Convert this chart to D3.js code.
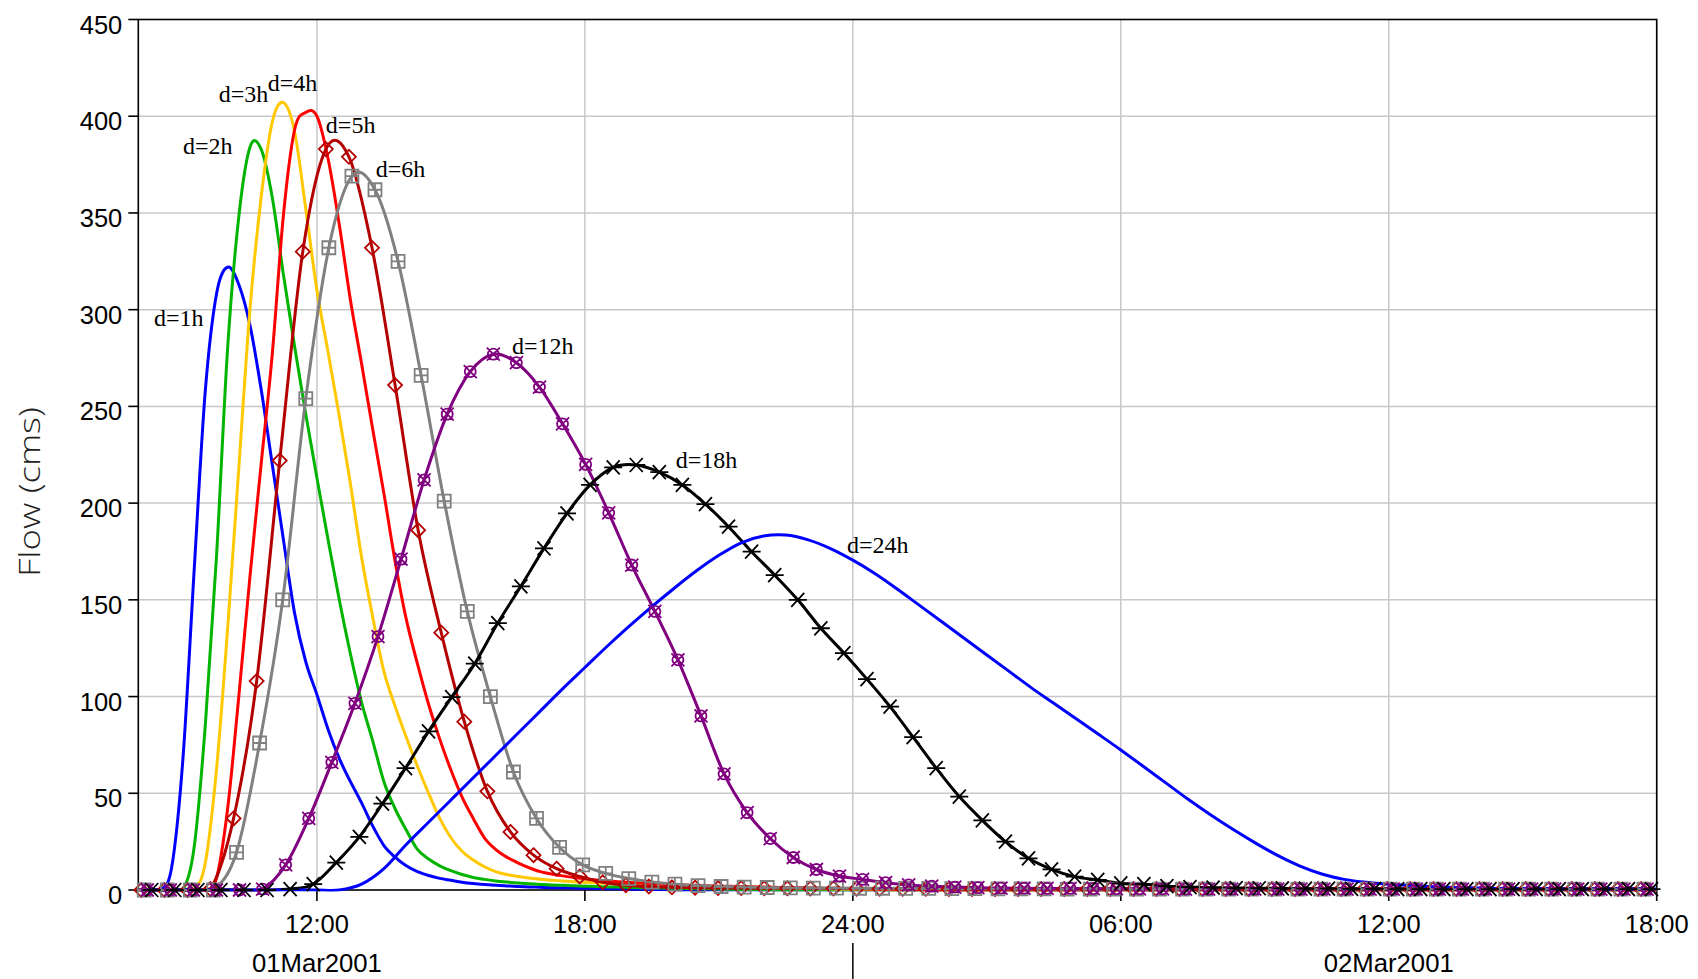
<!DOCTYPE html>
<html>
<head>
<meta charset="utf-8">
<script src="https://cdn.jsdelivr.net/npm/d3@7"></script>
<style>
body { margin: 0; background: #fff; }
svg { display: block; font-family: "Liberation Sans", Arial, sans-serif; }
</style>
</head>
<body>
<svg></svg>
<script>
let width = 1698, height = 979;
let plot = {left: 138.3, right: 1656.7, top: 19.5, bottom: 890};

// time range and ticks
let startTime = new Date(2001, 2, 1, 8, 0);
let endTime = new Date(2001, 2, 2, 18, 0);
let yTicks = [0, 50, 100, 150, 200, 250, 300, 350, 400, 450];
let xTickTimes = [new Date(2001, 2, 1, 12), new Date(2001, 2, 1, 18), new Date(2001, 2, 2, 0),
                  new Date(2001, 2, 2, 6), new Date(2001, 2, 2, 12), new Date(2001, 2, 2, 18)];
let xTickLabels = ["12:00", "18:00", "24:00", "06:00", "12:00", "18:00"];
let dayLabelTimes = [new Date(2001, 2, 1, 12), new Date(2001, 2, 2, 12)];
let dayLabels = ["01Mar2001", "02Mar2001"];
let dayBreaks = [new Date(2001, 2, 2, 0)];

// flows (cms), 15 min steps from 08:00
let d1h = [0,0,0,12,68,165,258,308,322,313,
  292,259,220,181,143,118,101,83,68,56,
  45,33,23,17,12.5,9.5,7.5,6,5,4,
  3.3,2.8,2.4,2.1,1.8,1.6,1.4,1.2,1.1,1,
  0.9,0.8,0.7,0.6,0.5,0.4,0.3,0.2,0.1,0,
  0,0,0,0,0,0,0,0,0,0, 0,0,0,0,0,0,0,0,0,0,
  0,0,0,0,0,0,0,0,0,0, 0,0,0,0,0,0,0,0,0,0,
  0,0,0,0,0,0,0,0,0,0, 0,0,0,0,0,0,0,0,0,0,
  0,0,0,0,0,0,0,0,0,0, 0,0,0,0,0,0,0,0,0,0,
  0,0,0,0,0,0,0];
let d2h = [0,0,0,0,0,22,85,172,280,348,
  384,383,358,318,281,246,213,181,150,122,
  97,77,56,42,31,21,16,12.5,10,8,
  6.5,5.5,4.7,4.1,3.6,3.2,2.9,2.6,2.4,2.2,
  2,1.8,1.6,1.5,1.3,1.2,1.1,1,0.9,0.8,
  0.7,0.6,0.5,0.4,0.3,0.2,0.1,0,0,0,
  0,0,0,0,0,0,0,0,0,0, 0,0,0,0,0,0,0,0,0,0,
  0,0,0,0,0,0,0,0,0,0, 0,0,0,0,0,0,0,0,0,0,
  0,0,0,0,0,0,0,0,0,0, 0,0,0,0,0,0,0,0,0,0,
  0,0,0,0,0,0,0,0,0,0, 0,0,0,0,0,0,0];
let d3h = [0,0,0,0,0,0,14,62,135,218,
  300,358,397,407,392,352,310,278,245,210,
  172,141,113,95,79,64,50,37,27,20,
  15.5,12,9.5,8,7,6.2,5.6,5.1,4.7,4.3,
  4,3.7,3.4,3.2,3,2.8,2.6,2.4,2.2,2,
  1.9,1.8,1.6,1.5,1.4,1.3,1.2,1.1,1,0.9,
  0.8,0.7,0.6,0.5,0.4,0.3,0.2,0.1,0,0,
  0,0,0,0,0,0,0,0,0,0, 0,0,0,0,0,0,0,0,0,0,
  0,0,0,0,0,0,0,0,0,0, 0,0,0,0,0,0,0,0,0,0,
  0,0,0,0,0,0,0,0,0,0, 0,0,0,0,0,0,0,0,0,0,
  0,0,0,0,0,0,0];
let d4h = [0,0,0,0,0,0,0,6,42,100,
  162,220,277,349,393,402,400,378,344,305,
  272,238,205,170,140,117,96,78,62,48,
  37,27,21,17,14,11.5,9.5,8.3,7.3,6.5,
  5.8,5.2,4.7,4.3,3.9,3.6,3.3,3,2.8,2.6,
  2.4,2.2,2,1.9,1.8,1.7,1.5,1.4,1.3,1.2,
  1.1,1,0.9,0.8,0.7,0.6,0.5,0.4,0.3,0.2,
  0.1,0,0,0,0,0,0,0,0,0,
  0,0,0,0,0,0,0,0,0,0, 0,0,0,0,0,0,0,0,0,0,
  0,0,0,0,0,0,0,0,0,0, 0,0,0,0,0,0,0,0,0,0,
  0,0,0,0,0,0,0,0,0,0, 0,0,0,0,0,0,0];
// marker series, 31 min steps
let d5h = [0,0,0,0.5,37,108,222,330,383,379,
  332,261,186,133,87,51,30,18,11,7,
  4,2.5,1.8,1.4,1.2,1,1,0.9,0.9,0.8,
  0.8,0.7,0.7,0.6,0.6,0.5,0.5,0.5,0.5,0.5,
  0.5,0.5,0.5,0.5,0.5,0.5,0.5,0.5,0.5,0.5,
  0.5,0.5,0.5,0.5,0.5,0.5,0.5,0.5,0.5,0.5,
  0.5,0.5,0.5,0.5,0.5,0.5];
let d6h = [0,0,0,0,19.5,76,150,254,332,369,
  362,325,266,201,144,100,61,37,22,13,
  8.6,5.9,4.1,3,2.3,1.8,1.5,1.3,1.1,1,
  1,0.9,0.9,0.8,0.8,0.7,0.7,0.6,0.6,0.6,
  0.5,0.5,0.5,0.5,0.5,0.5,0.5,0.5,0.5,0.5,
  0.5,0.5,0.5,0.5,0.5,0.5,0.5,0.5,0.5,0.5,
  0.5,0.5,0.5,0.5,0.5,0.5];
let d12h = [0,0,0,0,0,0.5,13,37,66,96.5,
  131,171,212,246,268,277,272.6,260,241,220,
  195,168,144,119,90,60,40,26.6,16.8,10.6,
  7.2,5.5,3.8,2.6,2,1.5,1.2,1,0.9,0.8,
  0.8,0.7,0.7,0.6,0.6,0.5,0.5,0.5,0.5,0.5,
  0.5,0.5,0.5,0.5,0.5,0.5,0.5,0.5,0.5,0.5,
  0.5,0.5,0.5,0.5,0.5,0.5];
let d18h = [0,0,0,0,0,0,0.5,3,14.2,27.5,
  44.6,63,82,99.7,117,138,157,176.6,194.7,209.4,
  218.5,219.7,216,209.4,199.5,187.8,174.9,162.8,150,135.3,
  122.5,109,94.8,79,63,48.3,36,25,16.4,10.7,
  6.9,5.2,3.4,3,2,1.5,1.2,1,0.9,0.8,
  0.7,0.7,0.6,0.6,0.5,0.5,0.5,0.5,0.5,0.5,
  0.5,0.5,0.5,0.5,0.5,0.5];
// 30 min steps
let d24h = [0,0,0,0,0,0,0,0,0,0,
  3,11,23.5,35,46.5,58,69.5,81,92.5,104,
  115,126,136.5,146.5,156,165,173,179.5,183,183.5,
  181,176.5,170.5,163.5,155.5,147,138.5,130,121.5,113,
  104.5,96.5,88.5,80.5,72.4,64,55.5,47,39,31.5,
  24.5,18,12.5,8.3,5.5,4,3,2.3,1.7,1.3,
  1,0.8,0.7,0.6,0.5,0.5,0.5,0.5,0.5];

let seriesNames = ["d=1h", "d=2h", "d=3h", "d=4h", "d=5h", "d=6h", "d=12h", "d=18h", "d=24h"];
let seriesValues = [d1h, d2h, d3h, d4h, d5h, d6h, d12h, d18h, d24h];
let seriesOffsets = [0, 0, 0, 0, 4, 8, 12, 18, 0];      // minutes after 08:00
let seriesSteps = [15, 15, 15, 15, 31, 31, 31, 31, 30];  // minutes
let seriesColors = ["#0000ff", "#00b400", "#ffc800", "#ff0000", "#b40000", "#808080", "#800080", "#000000", "#0000ff"];
let seriesMarkers = [null, null, null, null, "diamond", "boxplus", "circlex", "asterisk", null];

// curve labels, placed in data units (minutes after 08:00, flow)
let labelMinutes = [21, 60, 108, 174, 252, 319, 502, 722, 952];
let labelFlows = [291.6, 380.5, 407.3, 413, 391.3, 368.6, 277.1, 218.2, 174.2];

let markerPaths = {
  diamond: "M0,-7L7,0L0,7L-7,0Z",
  boxplus: "M-6.5,-6.5H6.5V6.5H-6.5Z M0,-6.5V6.5 M-6.5,0H6.5",
  circlex: "M5.5,0A5.5,5.5 0 1,1 -5.5,0A5.5,5.5 0 1,1 5.5,0Z M-6.5,-6.5L6.5,6.5 M6.5,-6.5L-6.5,6.5",
  asterisk: "M-9,0H9 M-6.5,-7L6.5,7 M6.5,-7L-6.5,7"
};

let svg = d3.select("svg")
    .attr("width", width)
    .attr("height", height)
    .attr("viewBox", "0 0 " + width + " " + height);

let x = d3.scaleTime().domain([startTime, endTime]).range([plot.left, plot.right]);
let y = d3.scaleLinear().domain([0, 450]).range([plot.bottom, plot.top]);

svg.append("defs").append("clipPath").attr("id", "clip")
  .append("rect")
    .attr("x", plot.left).attr("y", plot.top)
    .attr("width", plot.right - plot.left)
    .attr("height", plot.bottom - plot.top + 1.5);

// grid
svg.append("g").selectAll("line")
  .data(yTicks.filter(v => v > 0 && v < 450))
  .enter().append("line")
    .attr("x1", plot.left).attr("x2", plot.right)
    .attr("y1", d => y(d)).attr("y2", d => y(d))
    .attr("stroke", "#c8c8c8").attr("stroke-width", 1.5);

svg.append("g").selectAll("line")
  .data(xTickTimes)
  .enter().append("line")
    .attr("x1", d => x(d)).attr("x2", d => x(d))
    .attr("y1", plot.top).attr("y2", plot.bottom)
    .attr("stroke", "#c8c8c8").attr("stroke-width", 1.5);

// frame and ticks
svg.append("rect")
    .attr("x", plot.left).attr("y", plot.top)
    .attr("width", plot.right - plot.left).attr("height", plot.bottom - plot.top)
    .attr("fill", "none").attr("stroke", "#000").attr("stroke-width", 1.6);

let yAxis = svg.append("g");
yAxis.selectAll("line").data(yTicks).enter().append("line")
    .attr("x1", plot.left - 10).attr("x2", plot.left)
    .attr("y1", d => y(d)).attr("y2", d => y(d))
    .attr("stroke", "#000").attr("stroke-width", 1.6);
yAxis.selectAll("text").data(yTicks).enter().append("text")
    .attr("x", plot.left - 16)
    .attr("y", d => y(d) + 14)
    .attr("text-anchor", "end")
    .attr("font-size", 25.5)
    .text(d => d);

let xAxis = svg.append("g");
xAxis.selectAll("line").data(xTickTimes).enter().append("line")
    .attr("x1", d => x(d)).attr("x2", d => x(d))
    .attr("y1", plot.bottom).attr("y2", plot.bottom + 11)
    .attr("stroke", "#000").attr("stroke-width", 1.6);
xAxis.selectAll("text").data(xTickTimes).enter().append("text")
    .attr("x", d => x(d))
    .attr("y", 933)
    .attr("text-anchor", "middle")
    .attr("font-size", 25.5)
    .text((d, i) => xTickLabels[i]);

svg.append("g").selectAll("text").data(dayLabelTimes).enter().append("text")
    .attr("x", d => x(d))
    .attr("y", 972)
    .attr("text-anchor", "middle")
    .attr("font-size", 25.5)
    .attr("textLength", 130)
    .attr("lengthAdjust", "spacingAndGlyphs")
    .text((d, i) => dayLabels[i]);

svg.append("g").selectAll("line").data(dayBreaks).enter().append("line")
    .attr("x1", d => x(d)).attr("x2", d => x(d))
    .attr("y1", 943).attr("y2", height)
    .attr("stroke", "#000").attr("stroke-width", 1.5);

svg.append("text")
    .attr("transform", "translate(40,492) rotate(-90)")
    .attr("text-anchor", "middle")
    .attr("font-family", "'Open Sans', 'Liberation Sans', sans-serif")
    .attr("font-weight", 300)
    .attr("font-size", 29)
    .attr("textLength", 170)
    .attr("lengthAdjust", "spacingAndGlyphs")
    .attr("fill", "#222")
    .text("Flow (cms)");

// series
let series = seriesNames.map((name, i) => ({
  name: name,
  color: seriesColors[i],
  marker: seriesMarkers[i],
  points: seriesValues[i].map((v, k) => ({
    t: d3.timeMinute.offset(startTime, seriesOffsets[i] + k * seriesSteps[i]),
    v: v
  }))
}));

let line = d3.line()
    .x(d => x(d.t))
    .y(d => y(d.v))
    .curve(d3.curveCatmullRom.alpha(0));

let lines = svg.append("g").attr("clip-path", "url(#clip)");

series.forEach(s => {
  lines.append("path")
      .attr("d", line(s.points))
      .attr("fill", "none")
      .attr("stroke", s.color)
      .attr("stroke-width", 3)
      .attr("stroke-linejoin", "round");
  if (s.marker) {
    svg.append("g").selectAll("path")
      .data(s.points)
      .enter().append("path")
        .attr("transform", d => "translate(" + x(d.t) + "," + y(d.v) + ")")
        .attr("d", markerPaths[s.marker])
        .attr("fill", "none")
        .attr("stroke", s.color)
        .attr("stroke-width", 1.8);
  }
});

// curve labels
svg.append("g").selectAll("text")
  .data(seriesNames)
  .enter().append("text")
    .attr("x", (d, i) => x(d3.timeMinute.offset(startTime, labelMinutes[i])))
    .attr("y", (d, i) => y(labelFlows[i]))
    .attr("font-family", "'Liberation Serif', 'Times New Roman', serif")
    .attr("font-size", 24)
    .attr("fill", "#000")
    .text(d => d);
</script>
</body>
</html>
